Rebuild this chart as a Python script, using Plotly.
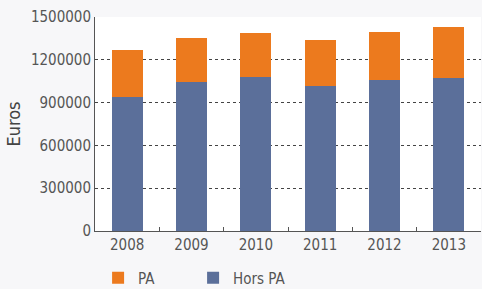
import plotly.graph_objects as go

years = ["2008", "2009", "2010", "2011", "2012", "2013"]
hors_pa = [940000, 1045000, 1078000, 1015000, 1057000, 1070000]
pa = [330000, 305000, 307000, 322000, 336000, 358000]
y_ticks = [0, 300000, 600000, 900000, 1200000, 1500000]

font_family = "DejaVu Sans Condensed, Roboto, Arial, sans-serif"

fig = go.Figure()
fig.add_trace(go.Bar(x=years, y=hors_pa, name="Hors PA", marker=dict(color="#5B6F9A", line=dict(width=0)), width=0.48))
fig.add_trace(go.Bar(x=years, y=pa, name="PA", marker=dict(color="#EC7A1E", line=dict(width=0)), width=0.48))

fig.update_layout(
    width=482, height=289,
    barmode="stack",
    paper_bgcolor="#F7F7F9",
    plot_bgcolor="#FFFFFF",
    margin=dict(l=95, r=1, t=17, b=58, autoexpand=False),
    font=dict(family=font_family, color="#555555", size=14),
    legend=dict(orientation="h", x=0.008, y=-0.22, xanchor="left", yanchor="middle",
                traceorder="reversed", font=dict(size=15, color="#555555"),
                entrywidth=50, entrywidthmode="pixels",
                bgcolor="rgba(0,0,0,0)"),
    showlegend=True,
)
fig.update_xaxes(
    showline=True, linecolor="#555555", linewidth=1,
    ticks="inside", tickson="boundaries", ticklen=4, tickcolor="#555555",
    tickfont=dict(size=15, color="#555555"),
    showgrid=False, automargin=False,
)
fig.update_yaxes(
    range=[0, 1500000], tickvals=y_ticks, tickformat="d",
    showline=True, linecolor="#555555", linewidth=1,
    showgrid=True, gridcolor="#444444", griddash="dot", gridwidth=1,
    zeroline=False, automargin=False,
    tickfont=dict(size=15, color="#555555"),
    ticks="", ticklen=6,
    title=dict(text="Euros", font=dict(size=18, color="#444444"), standoff=5),
)
fig.write_html("out.html", post_script="document.body.style.margin='0';",
               config={"displayModeBar": False})
